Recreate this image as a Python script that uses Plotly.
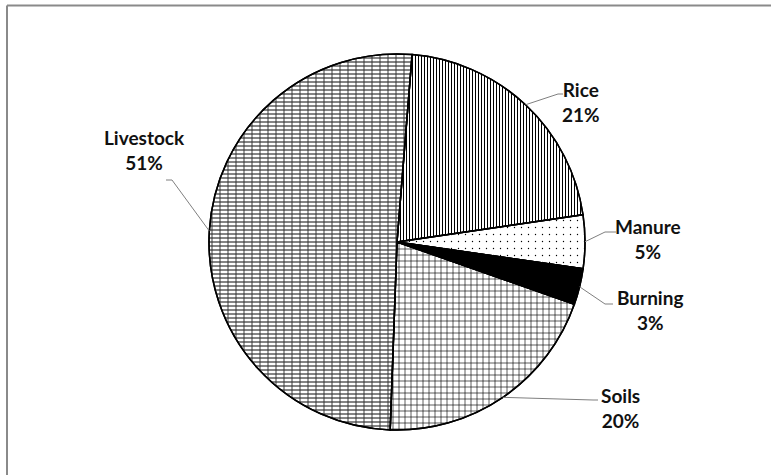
import math
import plotly.graph_objects as go

# ---- data ----
labels = ["Rice", "Manure", "Burning", "Soils", "Livestock"]
values = [21.4, 4.6, 3.1, 20.2, 50.7]
start_angle = 4.6  # degrees clockwise from 12 o'clock

# ---- styles ----
W, H = 771, 475
CX, CY, R = 397.0, 242.0, 188.0
slice_colors = ["white", "white", "black", "white", "white"]
pat_shapes = ["|", ".", "", "+", "-"]
pat_sizes = [3, 7, 6, 6, 4]
pat_solid = [0.34, 0.03, 0.3, 0.2, 0.3]
pat_fg = ["black", "black", "black", "black", "#333333"]

# label text block centres (px) and leader elbow / end points (px)
label_pos = {"Rice": (581, 102), "Manure": (648, 239), "Burning": (650, 310),
             "Soils": (620, 408), "Livestock": (144, 150)}
elbow = {"Rice": [(558, 94), (563, 94)], "Manure": [(605, 232), (616, 232)],
         "Burning": [(605, 304), (613, 304)], "Soils": [(593, 400), (598, 400)],
         "Livestock": [(172, 180), (166, 180)]}


def px(x):
    return x / W


def py(y):
    return 1 - y / H


dom_x = [px(CX - R), px(CX + R)]
dom_y = [py(CY + R), py(CY - R)]

fig = go.Figure()
fig.add_trace(go.Pie(
    labels=labels, values=values, sort=False, direction="clockwise",
    rotation=start_angle, textinfo="none", hoverinfo="skip",
    domain=dict(x=dom_x, y=dom_y), showlegend=False,
    marker=dict(colors=slice_colors, line=dict(color="black", width=1.5),
                pattern=dict(shape=pat_shapes, size=pat_sizes, solidity=pat_solid,
                             fgcolor=pat_fg, fillmode="replace")),
))
# brick-like vertical joints on Livestock
fig.add_trace(go.Pie(
    labels=labels, values=values, sort=False, direction="clockwise",
    rotation=start_angle, textinfo="none", hoverinfo="skip",
    domain=dict(x=dom_x, y=dom_y), showlegend=False,
    marker=dict(colors=["rgba(0,0,0,0)"] * 5, line=dict(color="black", width=1.5),
                pattern=dict(shape=["", "", "", "", "|"], size=8, solidity=0.12,
                             fgcolor="#333333", bgcolor="rgba(0,0,0,0)", fillmode="replace")),
))

total = sum(values)
shapes = []
annotations = []
acc = start_angle
for lab, v in zip(labels, values):
    span = v / total * 360
    mid = math.radians(acc + span / 2)
    acc += span
    ex, ey = CX + R * math.sin(mid), CY - R * math.cos(mid)
    pts = [(ex, ey)] + elbow[lab]
    for (x0, y0), (x1, y1) in zip(pts[:-1], pts[1:]):
        shapes.append(dict(type="line", xref="paper", yref="paper",
                           x0=px(x0), y0=py(y0), x1=px(x1), y1=py(y1),
                           line=dict(color="#7f7f7f", width=1)))
    lx, ly = label_pos[lab]
    annotations.append(dict(x=px(lx), y=py(ly), xref="paper", yref="paper",
                            text=f"<b>{lab}<br>{v / total * 100:.0f}%</b>",
                            showarrow=False, xanchor="center", yanchor="middle",
                            align="center",
                            font=dict(family="Lato", size=19, color="#111111",
                                      weight=900)))

# outer chart frame (top and left edges visible)
shapes.append(dict(type="line", xref="paper", yref="paper",
                   x0=px(7), y0=py(5.5), x1=1, y1=py(5.5),
                   line=dict(color="#8a8a8a", width=2)))
shapes.append(dict(type="line", xref="paper", yref="paper",
                   x0=px(7), y0=py(5.5), x1=px(7), y1=0,
                   line=dict(color="#8a8a8a", width=2)))

fig.update_layout(width=W, height=H, margin=dict(l=0, r=0, t=0, b=0),
                  paper_bgcolor="white", plot_bgcolor="white",
                  shapes=shapes, annotations=annotations)
fig.write_html("out.html")
